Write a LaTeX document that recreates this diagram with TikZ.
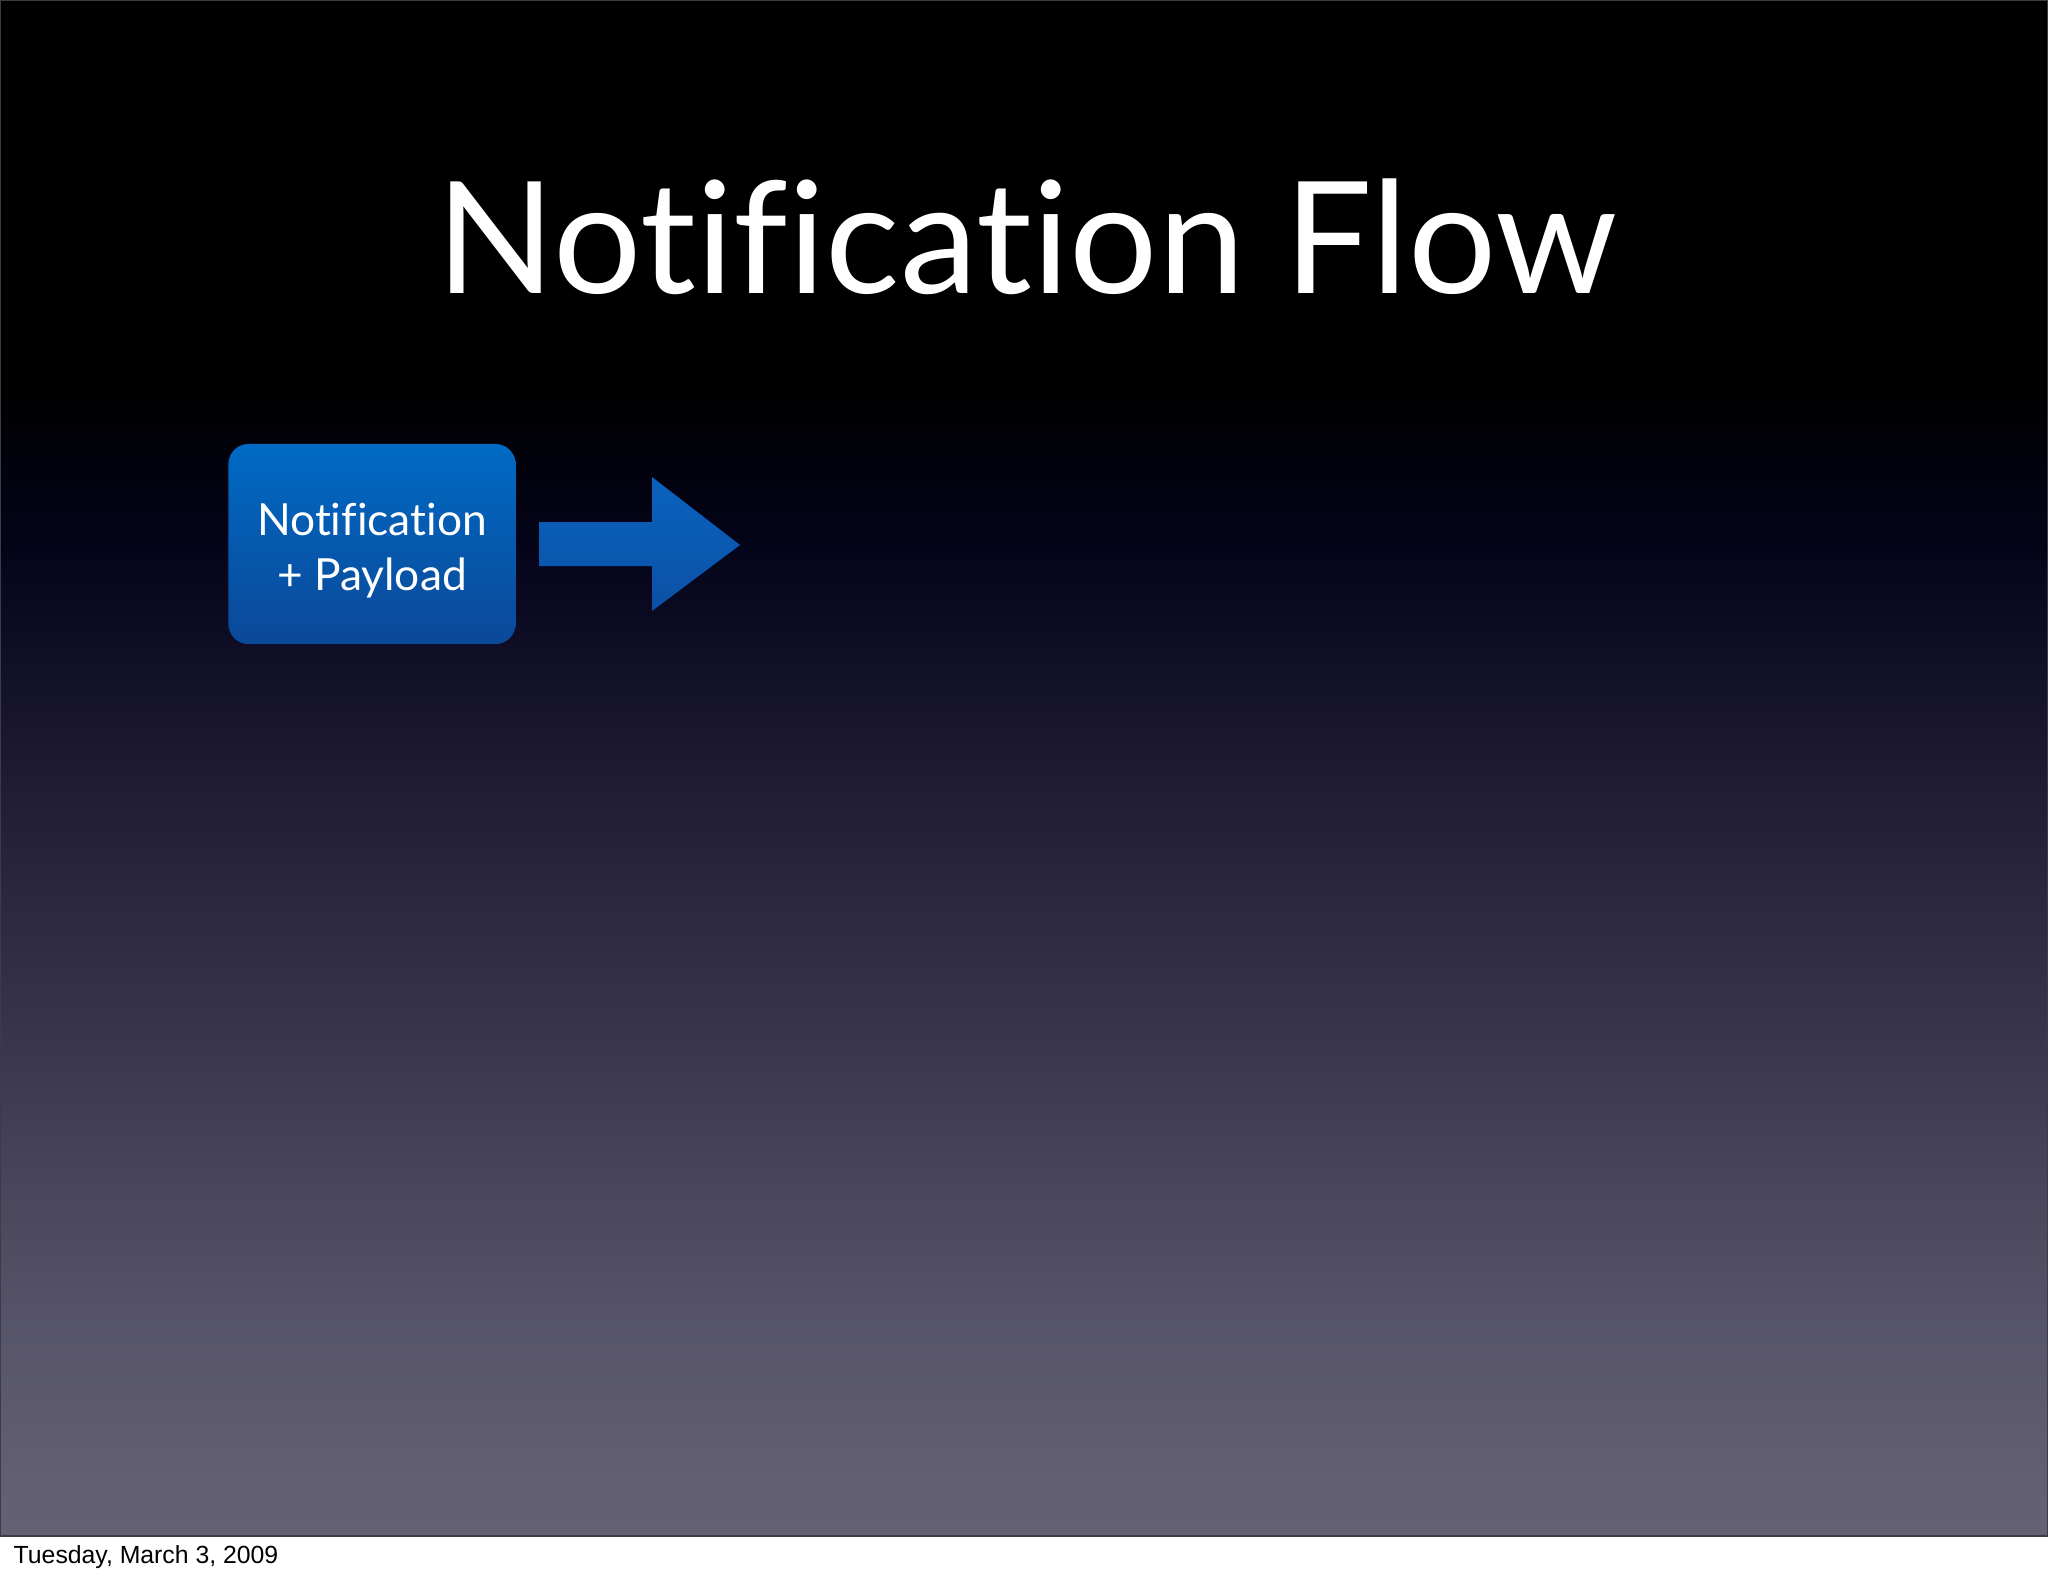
\documentclass[tikz,border=0pt]{standalone}
\usepackage{fontspec}
\setmainfont{Lato}[Ligatures=NoCommon]
\newfontfamily\datefont{Liberation Sans}
\usetikzlibrary{positioning}
\definecolor{FadeA}{HTML}{030318}
\definecolor{FadeB}{HTML}{15122C}
\definecolor{FadeC}{HTML}{27233D}
\definecolor{FadeD}{HTML}{36324A}
\definecolor{FadeE}{HTML}{47435A}
\definecolor{FadeF}{HTML}{56546A}
\definecolor{FadeG}{HTML}{625F73}
\definecolor{SlideBottom}{HTML}{646175}
\definecolor{BoxTop}{HTML}{006AC4}
\definecolor{BoxBottom}{HTML}{0B4898}
\definecolor{ArrowTop}{HTML}{0A62BE}
\definecolor{ArrowBottom}{HTML}{0B51A6}
\definecolor{SlideEdge}{HTML}{3C3C44}
\pgfdeclareverticalshading{slidefade}{100bp}{color(0bp)=(SlideBottom); color(25bp)=(SlideBottom); color(26.75bp)=(FadeG); color(31.9bp)=(FadeF); color(37bp)=(FadeE); color(42.15bp)=(FadeD); color(47.25bp)=(FadeC); color(52.4bp)=(FadeB); color(57.55bp)=(FadeA); color(62.4bp)=(black); color(100bp)=(black)}

\begin{document}
\begin{tikzpicture}[x=0.01cm, y=-0.01cm, every node/.style={text=white},
  msgbox/.style={rounded corners=0.2cm, minimum width=2.87cm, minimum height=2cm,
    top color=BoxTop, bottom color=BoxBottom, inner sep=0pt},
  msgtext/.style={align=center, anchor=base, font=\fontsize{12.6}{15.6}\selectfont}]
    \useasboundingbox (0,0) rectangle (2048,1576);
    \fill[white] (0,0) rectangle (2048,1576);
    \shade[shading=slidefade] (0,0) rectangle (2048,1536);
    \draw[SlideEdge, line width=0.4pt] (0.5,0.5) rectangle (2047.5,1536);

    \node[font=\fontsize{44.3}{50}\selectfont, anchor=base] (title) at (1027,294) {Notification Flow};

    \node[msgbox] (payload) at (372,544) {};
    \node[msgtext] (payloadtext) at (372,590) {Notification\\+ Payload};
    \shade[top color=ArrowTop, bottom color=ArrowBottom] (539,522) -- (652,522) -- (652,477) -- (740,545) -- (652,611) -- (652,566) -- (539,566) -- cycle;

    \node[text=black, anchor=base west, inner sep=0pt, font=\datefont\fontsize{7.05}{8}\selectfont] (date) at (13,1563) {Tuesday, March 3, 2009};
\end{tikzpicture}
\end{document}
